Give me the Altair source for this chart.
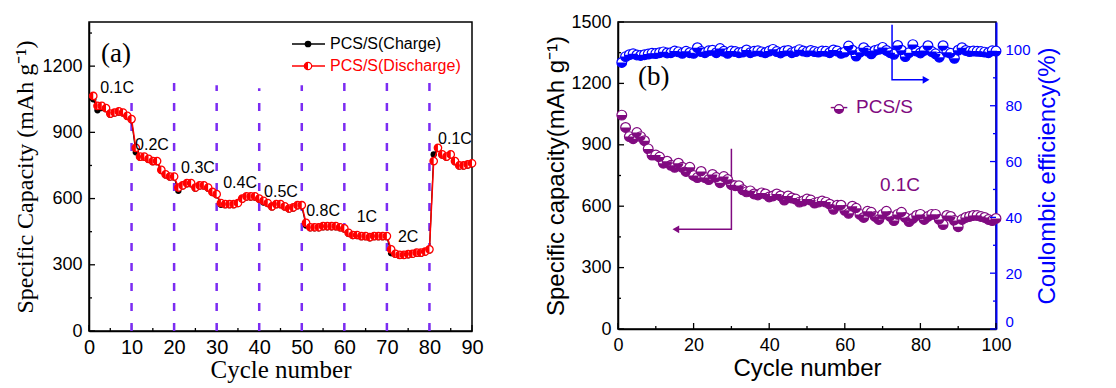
import altair as alt
import pandas as pd

# ---------------- Panel (a): rate performance ----------------
cycles_a = list(range(1, 91))
charge = [1050, 1000, 1010, 1005, 980, 985, 990, 985, 970, 955,
          810, 785, 785, 775, 765, 765, 725, 705, 695, 695,
          635, 655, 665, 665, 645, 655, 655, 645, 625, 615,
          572, 570, 570, 570, 575, 595, 605, 605, 605, 595,
          582, 575, 560, 570, 570, 560, 550, 555, 565, 565,
          478, 465, 465, 465, 470, 470, 470, 470, 465, 460,
          440, 430, 430, 425, 425, 420, 425, 425, 425, 425,
          352, 345, 340, 340, 343, 345, 350, 350, 355, 365,
          800, 825, 795, 785, 795, 765, 745, 745, 750, 755]
discharge = [1065, 1020, 1020, 1010, 985, 990, 995, 990, 975, 960,
             830, 790, 790, 780, 770, 770, 730, 710, 700, 700,
             650, 660, 670, 670, 650, 660, 660, 650, 630, 620,
             580, 575, 575, 575, 580, 600, 610, 610, 610, 600,
             590, 580, 565, 575, 575, 565, 555, 560, 570, 570,
             490, 470, 470, 470, 475, 475, 475, 475, 470, 465,
             445, 435, 435, 430, 430, 425, 430, 430, 430, 430,
             370, 350, 345, 345, 348, 350, 355, 355, 360, 370,
             770, 830, 800, 790, 800, 770, 750, 750, 755, 760]
rate_labels = ["0.1C", "0.2C", "0.3C", "0.4C", "0.5C", "0.8C", "1C", "2C", "0.1C"]
rate_x = [6.6, 14.8, 25.6, 35.5, 45.1, 55.0, 65.3, 75.0, 86.0]
rate_y = [1100, 844, 739, 671, 630, 543, 516, 424, 871]
divider_x = [10, 20, 30, 40, 50, 60, 70, 80]
divider_top = [1050, 1150, 1113, 1100, 1113, 1127, 1140, 1127]
a_x_major = list(range(0, 91, 10))
a_x_minor = list(range(5, 90, 10))
a_y_major = [0, 300, 600, 900, 1200]
a_y_minor = [150, 450, 750, 1050, 1350]

# ---------------- Panel (b): cycling ----------------
cycles_b = list(range(1, 101))
capacity = [1045, 985, 940, 930, 960, 940, 920, 880, 850, 850,
            840, 810, 820, 800, 790, 810, 790, 770, 790, 750,
            740, 770, 740, 730, 755, 740, 715, 745, 730, 705,
            700, 700, 680, 670, 675, 660, 655, 665, 660, 645,
            650, 660, 650, 630, 650, 640, 635, 620, 625, 635,
            630, 615, 620, 625, 620, 610, 585, 605, 605, 580,
            565, 600, 590, 560, 545, 575, 570, 550, 535, 560,
            575, 550, 530, 560, 570, 545, 525, 540, 555, 560,
            535, 550, 560, 560, 535, 510, 555, 550, 530, 500,
            535, 545, 550, 555, 555, 550, 545, 535, 530, 540]
efficiency = [95.5, 97.6, 98.3, 98.6, 98.2, 98.0, 98.3, 98.5, 98.8, 98.7,
              99.0, 99.3, 98.9, 99.0, 99.6, 99.3, 98.8, 99.5, 99.0, 98.8,
              100.8, 99.4, 99.0, 99.7, 99.9, 99.0, 100.5, 99.5, 98.8, 99.6,
              99.4, 99.0, 99.2, 100.0, 99.0, 99.5, 99.7, 99.3, 99.0, 99.6,
              100.2, 99.4, 98.9, 99.6, 99.8, 99.0, 99.4, 100.1, 99.6, 99.3,
              99.8, 99.4, 99.2, 99.6, 99.5, 99.0, 100.0, 99.6, 98.8, 99.2,
              101.4, 99.9, 97.8, 99.2, 100.8, 99.6, 98.6, 99.8, 100.2, 100.9,
              99.8, 99.0, 98.4, 101.6, 99.9, 97.6, 99.0, 101.9, 99.6, 98.9,
              99.8, 101.5, 99.4, 98.6, 97.4, 101.5, 99.2, 98.8, 97.0, 99.9,
              100.8, 99.8, 99.4, 99.6, 99.5, 99.4, 99.2, 99.0, 99.7, 99.6]
cap_arrow_x = [30, 30, 15.3]
cap_arrow_y = [881, 487, 487]
ce_arrow_x = [72.5, 72.5, 81.5]
ce_arrow_y = [109, 89.3, 89.3]
b_x_major = list(range(0, 101, 20))
b_x_minor = list(range(10, 100, 20))
b_y_major = list(range(0, 1501, 300))
b_y_minor = list(range(150, 1500, 300))
b_ce_major = list(range(0, 101, 20))
b_ce_minor = list(range(10, 110, 20))

RED = "#ff0000"
PURPLE = "#800a80"
BLUE = "#0000ff"
VIOLET = "#7b2cf2"
SANS = "Liberation Sans"
SERIF = "Liberation Serif"

LEFT_HALF = "M0,-1 A1,1 0 0,0 0,1 Z"
BOTTOM_HALF = "M-1,0 A1,1 0 0,0 1,0 Z"

WA, HA = 383, 309
WB, HB = 378, 307

one = pd.DataFrame({"k": [0]})

# ---------- Panel (a) ----------
df_a = pd.DataFrame({"cycle": cycles_a, "charge": charge, "discharge": discharge})
df_rates = pd.DataFrame({"x": rate_x, "y": rate_y, "label": rate_labels})
df_div = pd.DataFrame({"x": divider_x, "top": divider_top, "bottom": [0] * len(divider_x)})

xa_scale = alt.Scale(domain=[0, 90], nice=False, zero=False)
ya_scale = alt.Scale(domain=[0, 1400], nice=False)
xa_axis = alt.Axis(values=a_x_major, format="d", title="Cycle number", labelFont=SANS,
                   labelFontSize=20, titleFont=SERIF, titleFontSize=25, titleFontWeight="normal",
                   ticks=False, labelPadding=6, titlePadding=0, grid=False, labelFlush=False)
ya_axis = alt.Axis(values=a_y_major, format="d", title="Specific Capacity (mAh g\u207b\u00b9)",
                   labelFont=SANS, labelFontSize=18, titleFont=SERIF, titleFontSize=24,
                   titleFontWeight="normal", ticks=False, labelPadding=7, titlePadding=4, grid=False)


def xa(field):
    return alt.X(field, type="quantitative", scale=xa_scale, axis=xa_axis)


def ya(field):
    return alt.Y(field, type="quantitative", scale=ya_scale, axis=ya_axis)


def left_ticks(values, length, yenc, color="black"):
    return alt.Chart(pd.DataFrame({"v": values})).mark_rule(color=color, strokeWidth=1.3).encode(
        y=yenc("v"), x=alt.value(0), x2=alt.value(length))


def right_ticks(values, length, yenc, width, color="black"):
    return alt.Chart(pd.DataFrame({"v": values})).mark_rule(color=color, strokeWidth=1.3).encode(
        y=yenc("v"), x=alt.value(width - length), x2=alt.value(width))


def bottom_ticks(values, length, xenc, height, color="black"):
    return alt.Chart(pd.DataFrame({"v": values})).mark_rule(color=color, strokeWidth=1.3).encode(
        x=xenc("v"), y=alt.value(height - length), y2=alt.value(height))


dividers = alt.Chart(df_div).mark_rule(color=VIOLET, strokeWidth=2.5, strokeDash=[8, 12]).encode(
    x=xa("x"), y=ya("bottom"), y2="top")
charge_line = alt.Chart(df_a).mark_line(color="black", strokeWidth=1.2).encode(x=xa("cycle"), y=ya("charge"))
charge_pts = alt.Chart(df_a).mark_point(shape="circle", filled=True, color="black", size=40, opacity=1).encode(
    x=xa("cycle"), y=ya("charge"))
dis_line = alt.Chart(df_a).mark_line(color=RED, strokeWidth=1.5).encode(x=xa("cycle"), y=ya("discharge"))
dis_open = alt.Chart(df_a).mark_point(shape="circle", filled=False, fill="white", fillOpacity=1,
                                      stroke=RED, strokeWidth=1.3, size=55, opacity=1).encode(
    x=xa("cycle"), y=ya("discharge"))
dis_half = alt.Chart(df_a).mark_point(shape=LEFT_HALF, filled=True, color=RED, size=55, opacity=1).encode(
    x=xa("cycle"), y=ya("discharge"))
rate_text = alt.Chart(df_rates).mark_text(font=SANS, fontSize=16, color="black").encode(
    x=xa("x"), y=ya("y"), text="label:N")

label_a = alt.Chart(one).mark_text(text="(a)", font=SERIF, fontSize=27, align="left", baseline="middle",
                                   color="black").encode(x=alt.value(12), y=alt.value(32))
leg_line1 = alt.Chart(one).mark_rule(color="black", strokeWidth=1.5).encode(
    x=alt.value(203), x2=alt.value(236), y=alt.value(22))
leg_pt1 = alt.Chart(one).mark_point(shape="circle", filled=True, color="black", size=45, opacity=1).encode(
    x=alt.value(219), y=alt.value(22))
leg_txt1 = alt.Chart(one).mark_text(text="PCS/S(Charge)", font=SANS, fontSize=16, align="left",
                                    baseline="middle", color="black").encode(x=alt.value(241), y=alt.value(22))
leg_line2 = alt.Chart(one).mark_rule(color=RED, strokeWidth=1.5).encode(
    x=alt.value(203), x2=alt.value(236), y=alt.value(44))
leg_pt2 = alt.Chart(one).mark_point(shape="circle", filled=False, fill="white", fillOpacity=1, stroke=RED,
                                    strokeWidth=1.2, size=55, opacity=1).encode(x=alt.value(219), y=alt.value(44))
leg_pt2h = alt.Chart(one).mark_point(shape=LEFT_HALF, filled=True, color=RED, size=55, opacity=1).encode(
    x=alt.value(219), y=alt.value(44))
leg_txt2 = alt.Chart(one).mark_text(text="PCS/S(Discharge)", font=SANS, fontSize=16, align="left",
                                    baseline="middle", color=RED).encode(x=alt.value(241), y=alt.value(44))

panel_a = alt.layer(
    left_ticks(a_y_major, 6, ya), left_ticks(a_y_minor, 3, ya),
    bottom_ticks(a_x_major, 6, xa, HA), bottom_ticks(a_x_minor, 3, xa, HA),
    dividers, charge_line, charge_pts, dis_line, dis_open, dis_half, rate_text, label_a,
    leg_line1, leg_pt1, leg_txt1, leg_line2, leg_pt2, leg_pt2h, leg_txt2).properties(width=WA, height=HA)

# ---------- Panel (b) ----------
df_b = pd.DataFrame({"cycle": cycles_b, "capacity": capacity, "ce": efficiency})
df_cap_arrow = pd.DataFrame({"x": cap_arrow_x, "y": cap_arrow_y, "order": [0, 1, 2]})
df_ce_arrow = pd.DataFrame({"x": ce_arrow_x, "y": ce_arrow_y, "order": [0, 1, 2]})

xb_scale = alt.Scale(domain=[0, 100], nice=False, zero=False)
yb_scale = alt.Scale(domain=[0, 1500], nice=False)
ce_scale = alt.Scale(domain=[0, 110], nice=False)
xb_axis = alt.Axis(values=b_x_major, format="d", title="Cycle number", labelFont=SANS,
                   labelFontSize=18, titleFont=SANS, titleFontSize=24, titleFontWeight="normal", ticks=False,
                   labelPadding=7, titlePadding=2, grid=False, labelFlush=False)
yb_axis = alt.Axis(values=b_y_major, format="d", title="Specific capacity(mAh g\u207b\u00b9)",
                   labelFont=SANS, labelFontSize=18, titleFont=SANS, titleFontSize=24,
                   titleFontWeight="normal", ticks=False, labelPadding=7, titlePadding=2, grid=False)
ce_axis = alt.Axis(values=b_ce_major, format="d", title="Coulombic efficiency(%)", orient="right",
                   labelFont=SANS, labelFontSize=15, labelColor=BLUE, titleFont=SANS, titleFontSize=24,
                   titleFontWeight="normal", titleColor=BLUE, titleAngle=270, titleBaseline="top",
                   domainColor=BLUE, domainWidth=2, ticks=False, labelPadding=9, labelFlush=True,
                   titlePadding=5, grid=False)


def xb(field):
    return alt.X(field, type="quantitative", scale=xb_scale, axis=xb_axis)


def yb(field):
    return alt.Y(field, type="quantitative", scale=yb_scale, axis=yb_axis)


def yc(field):
    return alt.Y(field, type="quantitative", scale=ce_scale, axis=ce_axis)


cap_open = alt.Chart(df_b).mark_point(shape="circle", filled=False, fill="white", fillOpacity=1, stroke=PURPLE,
                                      strokeWidth=1.2, size=95, opacity=1).encode(x=xb("cycle"), y=yb("capacity"))
cap_half = alt.Chart(df_b).mark_point(shape=BOTTOM_HALF, filled=True, color=PURPLE, size=95, opacity=1).encode(
    x=xb("cycle"), y=yb("capacity"))
cap_arrow = alt.Chart(df_cap_arrow).mark_line(color=PURPLE, strokeWidth=1.5).encode(
    x=xb("x"), y=yb("y"), order="order:Q")
cap_head = alt.Chart(df_cap_arrow.iloc[[2]]).mark_point(shape="triangle-left", filled=True, color=PURPLE,
                                                        size=60, opacity=1).encode(x=xb("x"), y=yb("y"))
text_01c = alt.Chart(one).mark_text(text="0.1C", font=SANS, fontSize=19, color=PURPLE).encode(
    x=alt.value(282), y=alt.value(163))
label_b = alt.Chart(one).mark_text(text="(b)", font=SERIF, fontSize=27, align="left", baseline="middle",
                                   color="black").encode(x=alt.value(20), y=alt.value(55))
leg_b_dash = alt.Chart(one).mark_text(text="-        -", font=SANS, fontSize=19, color=PURPLE).encode(
    x=alt.value(221), y=alt.value(85))
leg_b_open = alt.Chart(one).mark_point(shape="circle", filled=False, fill="white", fillOpacity=1, stroke=PURPLE,
                                       strokeWidth=1.2, size=80, opacity=1).encode(x=alt.value(221), y=alt.value(87))
leg_b_half = alt.Chart(one).mark_point(shape=BOTTOM_HALF, filled=True, color=PURPLE, size=80, opacity=1).encode(
    x=alt.value(221), y=alt.value(87))
leg_b_txt = alt.Chart(one).mark_text(text="PCS/S", font=SANS, fontSize=19, align="left", baseline="middle",
                                     color=PURPLE).encode(x=alt.value(238), y=alt.value(85))

ce_open = alt.Chart(df_b).mark_point(shape="circle", filled=False, fill="white", fillOpacity=1, stroke=BLUE,
                                     strokeWidth=1.2, size=95, opacity=1).encode(x=xb("cycle"), y=yc("ce"))
ce_half = alt.Chart(df_b).mark_point(shape=BOTTOM_HALF, filled=True, color=BLUE, size=95, opacity=1).encode(
    x=xb("cycle"), y=yc("ce"))
ce_arrow = alt.Chart(df_ce_arrow).mark_line(color=BLUE, strokeWidth=1.5).encode(
    x=xb("x"), y=yc("y"), order="order:Q")
ce_head = alt.Chart(df_ce_arrow.iloc[[2]]).mark_point(shape="triangle-right", filled=True, color=BLUE,
                                                      size=60, opacity=1).encode(x=xb("x"), y=yc("y"))

left_b = alt.layer(left_ticks(b_y_major, 6, yb), left_ticks(b_y_minor, 3, yb),
                   bottom_ticks(b_x_major, 6, xb, HB), bottom_ticks(b_x_minor, 3, xb, HB),
                   cap_arrow, cap_head, cap_open, cap_half, text_01c, label_b, leg_b_dash, leg_b_open,
                   leg_b_half, leg_b_txt)
right_b = alt.layer(right_ticks(b_ce_major, 6, yc, WB, BLUE), right_ticks(b_ce_minor, 3, yc, WB, BLUE),
                    ce_open, ce_half, ce_arrow, ce_head)
panel_b = alt.layer(left_b, right_b).resolve_scale(y="independent").properties(width=WB, height=HB)

chart = alt.hconcat(panel_a, panel_b, spacing=60).properties(
    padding={"top": 4, "left": 5, "right": 5, "bottom": 0}
).configure_view(stroke="black", strokeWidth=1.5).configure_axis(
    domainColor="black", tickColor="black", labelColor="black", titleColor="black", domainWidth=1.5
)

chart.save("out.html", embed_options={"renderer": "svg", "actions": False})
